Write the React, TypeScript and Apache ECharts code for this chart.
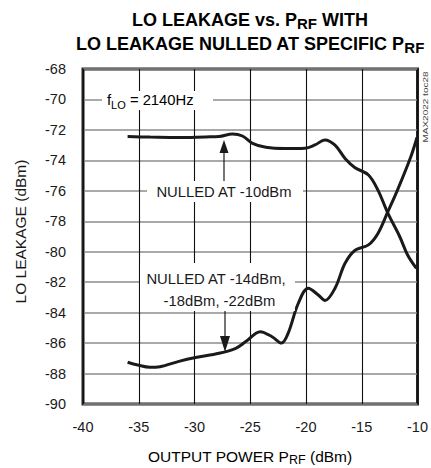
import React, { useEffect, useRef } from 'react';
import * as echarts from 'echarts';

// X: output power P_RF (dBm), Y: LO leakage (dBm)
const nulledAtMinus10: [number, number][] = [
  [-36, -72.44], [-34, -72.47], [-31.5, -72.5], [-29, -72.46], [-27.8, -72.44],
  [-26.6, -72.27], [-25.7, -72.4], [-24.8, -72.88], [-23.6, -73.14], [-21.9, -73.22],
  [-20.1, -73.2], [-19.2, -72.99], [-18.3, -72.66], [-17.4, -73.0], [-16.5, -73.87],
  [-15.6, -74.48], [-14.4, -74.96], [-13.55, -75.95], [-12.66, -77.47], [-11.6, -79.0],
  [-10.9, -80.2], [-10.1, -81.1],
];

const nulledAtMinus14_18_22: [number, number][] = [
  [-36, -87.26], [-35.1, -87.44], [-34.0, -87.59], [-33.1, -87.55], [-31.4, -87.2],
  [-29.9, -86.95], [-27.8, -86.67], [-26.3, -86.34], [-25.4, -85.9], [-24.1, -85.25],
  [-23.05, -85.58], [-22.2, -86.0], [-21.6, -85.35], [-20.7, -83.4], [-19.8, -82.4],
  [-18.9, -82.84], [-18.3, -83.2], [-17.4, -82.4], [-16.5, -80.76], [-15.6, -79.9],
  [-14.4, -79.55], [-13.55, -78.8], [-12.66, -77.37], [-11.8, -75.95], [-10.6, -73.76],
  [-10.05, -72.5],
];

const xRange = { min: -40, max: -10, interval: 5 };
const yRange = { min: -90, max: -68, interval: 2 };

const FONT = "'Liberation Sans', Arial, Helvetica, sans-serif";
const INK = '#1a1a1a';

export default function App() {
  const ref = useRef<HTMLDivElement>(null);

  useEffect(() => {
    if (!ref.current) return;
    const chart = echarts.init(ref.current, null, { renderer: 'svg' });

    const titleRich = {
      b: { fontFamily: FONT, fontSize: 18, fontWeight: 'bold', color: INK, lineHeight: 22 },
      s: { fontFamily: FONT, fontSize: 15, fontWeight: 'bold', color: INK, lineHeight: 15, verticalAlign: 'bottom' },
    };

    const annot = (text: string, x: number, y: number) => ({
      type: 'text',
      x,
      y,
      z: 102,
      style: {
        text,
        fontFamily: FONT,
        fontSize: 14.8,
        fill: INK,
        align: 'center',
        verticalAlign: 'middle',
      },
    });

    chart.setOption({
      animation: false,
      backgroundColor: '#ffffff',
      grid: {
        left: 83,
        right: 11,
        top: 69,
        bottom: 64,
        show: true,
        borderColor: '#222222',
        borderWidth: 3,
        backgroundColor: 'transparent',
      },
      xAxis: {
        type: 'value',
        min: xRange.min,
        max: xRange.max,
        interval: xRange.interval,
        axisLine: { show: false },
        axisTick: { show: false },
        axisLabel: { margin: 15, fontFamily: FONT, fontSize: 14.5, color: INK },
        splitLine: { show: true, lineStyle: { color: '#111111', width: 1.1 } },
      },
      yAxis: {
        type: 'value',
        min: yRange.min,
        max: yRange.max,
        interval: yRange.interval,
        axisLine: { show: false },
        axisTick: { show: false },
        axisLabel: { margin: 17, fontFamily: FONT, fontSize: 14.5, color: INK },
        splitLine: { show: true, lineStyle: { color: '#8c8c8c', width: 1.6 } },
      },
      series: [
        {
          name: 'NULLED AT -10dBm',
          type: 'line',
          data: nulledAtMinus10,
          smooth: 0.35,
          showSymbol: false,
          lineStyle: { color: INK, width: 3 },
          z: 5,
        },
        {
          name: 'NULLED AT -14dBm, -18dBm, -22dBm',
          type: 'line',
          data: nulledAtMinus14_18_22,
          smooth: 0.35,
          showSymbol: false,
          lineStyle: { color: INK, width: 3 },
          z: 5,
        },
      ],
      graphic: [
        {
          type: 'text', x: 250, y: 20, z: 100,
          style: { text: '{b|LO LEAKAGE vs. P}{s|RF}{b| WITH}', rich: titleRich, align: 'center', verticalAlign: 'middle' },
        },
        {
          type: 'text', x: 250, y: 43.5, z: 100,
          style: { text: '{b|LO LEAKAGE NULLED AT SPECIFIC P}{s|RF}', rich: titleRich, align: 'center', verticalAlign: 'middle' },
        },
        {
          type: 'text', x: 250, y: 456, z: 100,
          style: {
            text: '{a|OUTPUT POWER P}{s|RF}{a| (dBm)}',
            rich: {
              a: { fontFamily: FONT, fontSize: 15.5, color: INK, lineHeight: 21 },
              s: { fontFamily: FONT, fontSize: 12.5, color: INK, lineHeight: 12.5, verticalAlign: 'bottom' },
            },
            align: 'center',
            verticalAlign: 'middle',
          },
        },
        {
          type: 'text', x: 20, y: 231.5, rotation: Math.PI / 2, z: 100,
          style: {
            text: 'LO LEAKAGE (dBm)',
            fontFamily: FONT,
            fontSize: 15.5,
            fill: INK,
            align: 'center',
            verticalAlign: 'middle',
          },
        },
        {
          type: 'text', x: 425, y: 107, rotation: Math.PI / 2, scaleY: 0.8, z: 100,
          style: {
            text: 'MAX2022 toc28',
            fontFamily: FONT,
            fontSize: 10,
            fill: '#444444',
            align: 'center',
            verticalAlign: 'middle',
          },
        },
        // fLO label
        { type: 'rect', z: 101, shape: { x: 102, y: 91, width: 111, height: 19 }, style: { fill: '#ffffff' } },
        {
          type: 'text', x: 107, y: 100, z: 102,
          style: {
            text: '{a|f}{s|LO}{a| = 2140Hz}',
            rich: {
              a: { fontFamily: FONT, fontSize: 14.8, color: INK, lineHeight: 20 },
              s: { fontFamily: FONT, fontSize: 11, color: INK, lineHeight: 11, verticalAlign: 'bottom' },
            },
            align: 'left',
            verticalAlign: 'middle',
          },
        },
        // NULLED AT -10dBm
        { type: 'rect', z: 101, shape: { x: 147, y: 181, width: 156, height: 21 }, style: { fill: '#ffffff' } },
        annot('NULLED AT -10dBm', 224, 191.5),
        { type: 'line', z: 102, shape: { x1: 224, y1: 181, x2: 224, y2: 152 }, style: { stroke: INK, lineWidth: 1.2 } },
        { type: 'polygon', z: 102, shape: { points: [[224, 140], [219.5, 153], [228.5, 153]] }, style: { fill: INK } },
        // NULLED AT -14/-18/-22dBm
        { type: 'rect', z: 101, shape: { x: 140, y: 263, width: 155, height: 48 }, style: { fill: '#ffffff' } },
        annot('NULLED AT -14dBm,', 216, 278.5),
        annot('-18dBm, -22dBm', 219.5, 300.5),
        { type: 'line', z: 102, shape: { x1: 225, y1: 311, x2: 225, y2: 337 }, style: { stroke: INK, lineWidth: 1.2 } },
        { type: 'polygon', z: 102, shape: { points: [[225, 352], [220, 336], [230, 336]] }, style: { fill: INK } },
      ],
    });

    return () => chart.dispose();
  }, []);

  return (
    <div
      ref={ref}
      style={{ position: 'fixed', left: 0, top: 0, width: 431, height: 468, background: '#fff' }}
    />
  );
}
